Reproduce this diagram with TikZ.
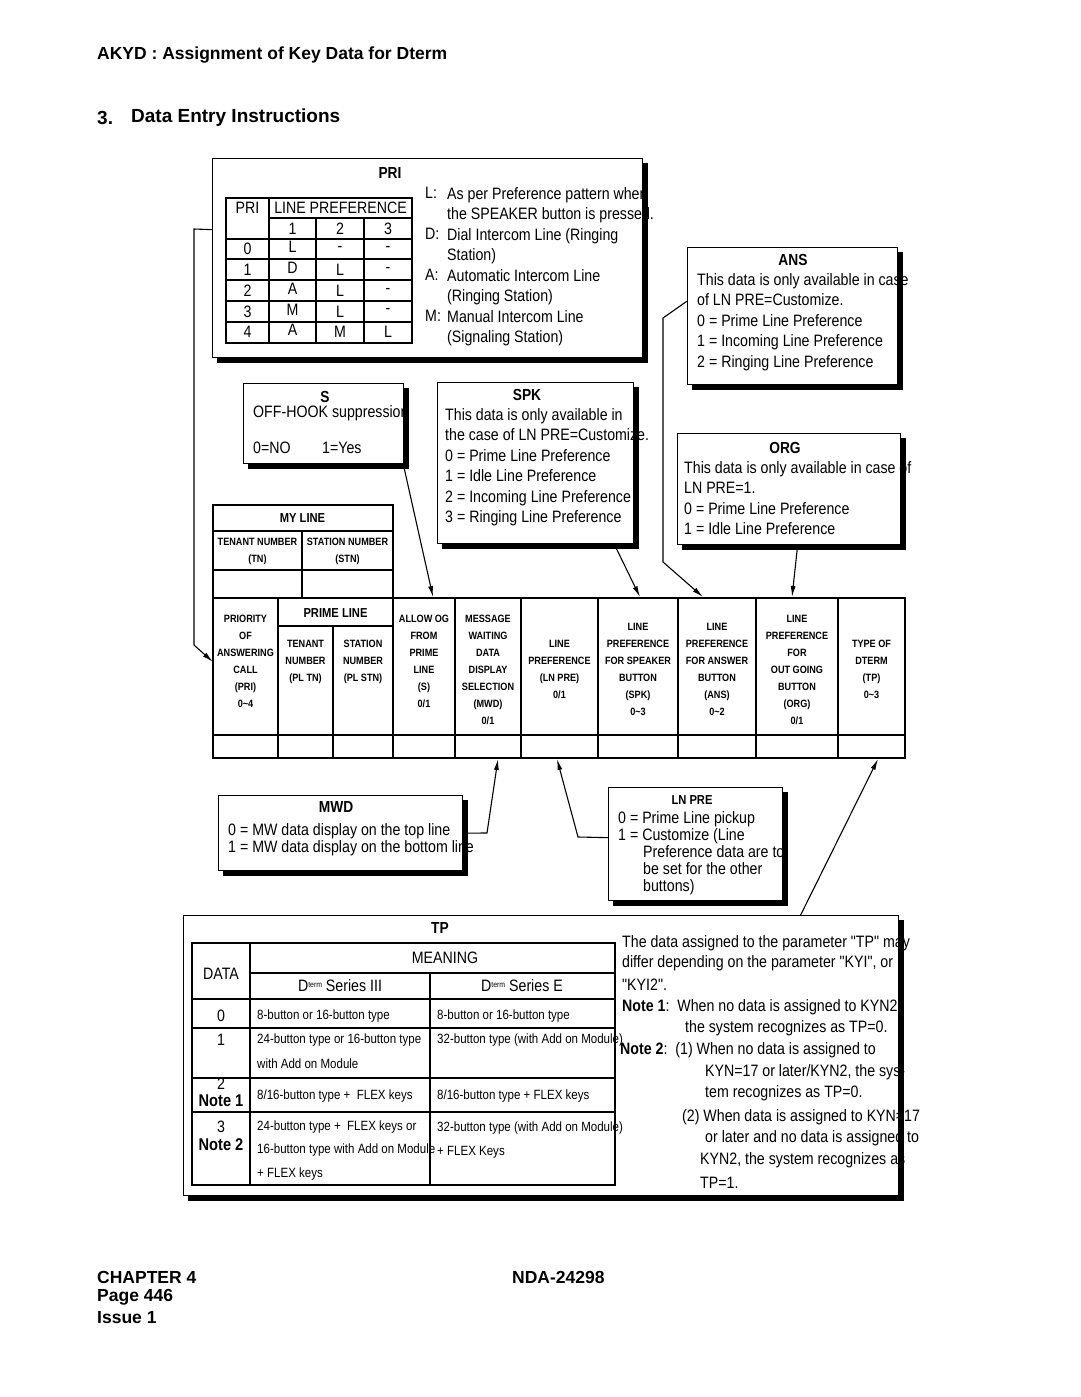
\documentclass[tikz,border=0pt]{standalone}
\usepackage{fontspec}
\setmainfont{Liberation Sans}
\newfontfamily\narrow[FakeStretch=0.86]{Liberation Sans}
\usetikzlibrary{arrows.meta, positioning}

\tikzset{
  box/.style={draw, line width=1.3pt, fill=white, inner sep=0pt, anchor=north west},
  boxshadow/.style={line width=5pt},
  tableline/.style={line width=1.3pt},
  pointer/.style={line width=1.1pt, ->},
  bodytext/.style={font=\narrow\fontsize{16.5}{20.5}\selectfont, inner sep=0pt, anchor=west},
  tighttext/.style={font=\narrow\fontsize{16.5}{17}\selectfont, inner sep=0pt, anchor=north west, align=left},
  cell/.style={font=\narrow\fontsize{16.5}{20.5}\selectfont, inner sep=0pt},
  celltext/.style={font=\narrow\fontsize{13.4}{17}\selectfont, inner sep=0pt, anchor=west},
  boxtitle/.style={font=\narrow\bfseries\fontsize{16}{18}\selectfont, inner sep=0pt},
  notelabel/.style={font=\narrow\bfseries\fontsize{17}{18}\selectfont, inner sep=0pt},
  smalltitle/.style={font=\narrow\bfseries\fontsize{13}{17}\selectfont, inner sep=0pt},
  colhead/.style={font=\narrow\bfseries\fontsize{10.6}{17}\selectfont, inner sep=0pt, align=center},
  heading/.style={font=\bfseries\fontsize{17.5}{21}\selectfont, inner sep=0pt, anchor=west},
  sectionhead/.style={font=\bfseries\fontsize{19}{23}\selectfont, inner sep=0pt, anchor=west},
  >={Latex[length=11pt,width=5pt]}
}

% thick black shadow on the right and lower side of a box
\newcommand{\boxshade}[1]{%
  \draw[boxshadow] ([shift={(2.5pt,-5pt)}]#1.north east) -- ([shift={(2.5pt,-2.5pt)}]#1.south east) -- ([shift={(5pt,-2.5pt)}]#1.south west);}
\newcommand{\dterm}{D{\fontsize{8}{8}\selectfont\raisebox{4.5pt}{term}}}

\begin{document}
\begin{tikzpicture}[x=1pt, y=-1pt]
  \fill[white] (0,0) rectangle (1080,1397);
  \useasboundingbox (0,0) rectangle (1080,1397);

  % page heading
  \node[heading] (akyd) at (97,55) {AKYD : Assignment of Key Data for Dterm};
  \node[sectionhead] (secno) at (97,118) {3.};
  \node[sectionhead] (sectitle) at (131,118) {Data Entry Instructions};

  % PRI box
  \node[box, minimum width=430pt, minimum height=199pt] (pri) at (212,158) {};
  \node[boxtitle] (prititle) at (390,173) {PRI};
  \draw[tableline] (226,198) rectangle (412,343);
  \draw[tableline] (269,198) -- (269,343);
  \draw[tableline] (269,218) -- (412,218);
  \draw[tableline] (316,218) -- (316,343);
  \draw[tableline] (364,218) -- (364,343);
  \foreach \y in {239,259,280,301,322}
    \draw[tableline] (226,\y) -- (412,\y);
  \node[cell] (prihead) at (247.5,208) {PRI};
  \node[cell] (linepref) at (340.5,208) {LINE PREFERENCE};
  \node[cell] (lp1) at (292.5,228.5) {1};
  \node[cell] (lp2) at (340,228.5) {2};
  \node[cell] (lp3) at (388,228.5) {3};
  \foreach \r/\a/\b/\c [count=\i from 0] in {0/L/-/-, 1/D/L/-, 2/A/L/-, 3/M/L/-, 4/A/M/L} {
    \node[cell] (prirow\i) at (247.5,249+20.8*\i) {\r};
    \node[cell] (prifirst\i) at (292.5,247+20.8*\i) {\a};
    \node[cell] (prisecond\i) at (340,249+20.8*\i) {\b};
    \node[cell] (prithird\i) at (388,249+20.8*\i) {\c};
  }
  \node[bodytext, anchor=north west, align=left] (prikeys) at (425,187)
    {L:\\[20.5pt]D:\\[20.5pt]A:\\[20.5pt]M:};
  \node[bodytext, anchor=north west, align=left] (pritext) at (447,187)
    {As per Preference pattern when\\the SPEAKER button is pressed.\\Dial Intercom Line (Ringing\\Station)\\Automatic Intercom Line\\(Ringing Station)\\Manual Intercom Line\\(Signaling Station)};

  % S box
  \node[box, minimum width=160pt, minimum height=80pt] (sbox) at (243,383) {};
  \node[boxtitle] (stitle) at (325,397) {S};
  \node[bodytext] (stext) at (253,413) {OFF-HOOK suppression};
  \node[bodytext] (sno) at (253,448) {0=NO};
  \node[bodytext] (syes) at (322,448) {1=Yes};

  % SPK box
  \node[box, minimum width=196pt, minimum height=161pt] (spk) at (437,382) {};
  \node[boxtitle] (spktitle) at (527,395) {SPK};
  \node[bodytext, anchor=north west, align=left] (spktext) at (445,408)
    {This data is only available in\\the case of LN PRE=Customize.\\0 = Prime Line Preference\\1 = Idle Line Preference\\2 = Incoming Line Preference\\3 = Ringing Line Preference};

  % ANS box
  \node[box, minimum width=210pt, minimum height=137pt] (ans) at (687,247) {};
  \node[boxtitle] (anstitle) at (793,260) {ANS};
  \node[bodytext, anchor=north west, align=left] (anstext) at (697,273)
    {This data is only available in case\\of LN PRE=Customize.\\0 = Prime Line Preference\\1 = Incoming Line Preference\\2 = Ringing Line Preference};

  % ORG box
  \node[box, minimum width=223pt, minimum height=111pt] (org) at (677,433) {};
  \node[boxtitle] (orgtitle) at (785,448) {ORG};
  \node[bodytext, anchor=north west, align=left] (orgtext) at (684,461)
    {This data is only available in case of\\LN PRE=1.\\0 = Prime Line Preference\\1 = Idle Line Preference};

  % MY LINE table
  \draw[tableline] (213,505) rectangle (393,598);
  \draw[tableline] (213,531) -- (393,531);
  \draw[tableline] (213,570) -- (393,570);
  \draw[tableline] (302,531) -- (302,598);
  \node[smalltitle] (myline) at (302.5,518) {MY LINE};
  \node[colhead] (mytn) at (257.5,551) {TENANT NUMBER\\(TN)};
  \node[colhead] (mystn) at (347.5,551) {STATION NUMBER\\(STN)};

  % main data table
  \draw[tableline] (213,598) rectangle (905,758);
  \draw[tableline] (213,735) -- (905,735);
  \draw[tableline] (278,626) -- (393,626);
  \foreach \x in {278,393,455,521,598,678,756,838}
    \draw[tableline] (\x,598) -- (\x,758);
  \draw[tableline] (333,626) -- (333,758);
  \node[smalltitle] (primeline) at (335.5,613) {PRIME LINE};
  \node[colhead] (colpri) at (245.5,661.5) {PRIORITY\\OF\\ANSWERING\\CALL\\(PRI)\\0\textasciitilde4};
  \node[colhead] (colpltn) at (305.5,661.5) {TENANT\\NUMBER\\(PL TN)};
  \node[colhead] (colplstn) at (363,661.5) {STATION\\NUMBER\\(PL STN)};
  \node[colhead] (cols) at (424,661.5) {ALLOW OG\\FROM\\PRIME\\LINE\\(S)\\0/1};
  \node[colhead] (colmwd) at (488,670) {MESSAGE\\WAITING\\DATA\\DISPLAY\\SELECTION\\(MWD)\\0/1};
  \node[colhead] (collnpre) at (559.5,669.5) {LINE\\PREFERENCE\\(LN PRE)\\0/1};
  \node[colhead] (colspk) at (638,669.5) {LINE\\PREFERENCE\\FOR SPEAKER\\BUTTON\\(SPK)\\0\textasciitilde3};
  \node[colhead] (colans) at (717,669.5) {LINE\\PREFERENCE\\FOR ANSWER\\BUTTON\\(ANS)\\0\textasciitilde2};
  \node[colhead] (colorg) at (797,670) {LINE\\PREFERENCE\\FOR\\OUT GOING\\BUTTON\\(ORG)\\0/1};
  \node[colhead] (coltp) at (871.5,669.5) {TYPE OF\\DTERM\\(TP)\\0\textasciitilde3};

  % MWD box
  \node[box, minimum width=244pt, minimum height=75pt] (mwd) at (218,795) {};
  \node[boxtitle] (mwdtitle) at (336,807) {MWD};
  \node[tighttext] (mwdtext) at (228,823)
    {0 = MW data display on the top line\\1 = MW data display on the bottom line};

  % LN PRE box
  \node[box, minimum width=174pt, minimum height=113pt] (lnpre) at (608,787) {};
  \node[smalltitle] (lnpretitle) at (692,800) {LN PRE};
  \node[tighttext] (lnpretext) at (618,811)
    {0 = Prime Line pickup\\1 = Customize (Line};
  \node[tighttext] (lnpremore) at (643,845)
    {Preference data are to\\be set for the other\\buttons)};

  % TP box
  \node[box, minimum width=715pt, minimum height=280pt] (tpbox) at (183,915) {};
  \node[boxtitle] (tptitle) at (440,928) {TP};
  \draw[tableline] (192,943) rectangle (615,1185);
  \draw[tableline] (250,943) -- (250,1185);
  \draw[tableline] (430,973) -- (430,1185);
  \draw[tableline] (250,973) -- (615,973);
  \foreach \y in {999,1028,1078,1112}
    \draw[tableline] (192,\y) -- (615,\y);
  \node[cell] (tpdata) at (221,974) {DATA};
  \node[cell] (tpmeaning) at (445,958) {MEANING};
  \node[cell] (tpseries3) at (340,986) {\dterm\ Series III};
  \node[cell] (tpseriese) at (522,986) {\dterm\ Series E};
  \node[cell] (tp0) at (221,1016) {0};
  \node[cell] (tp1) at (221,1040) {1};
  \node[cell] (tp2) at (221,1084) {2};
  \node[notelabel] (tpnote1) at (221,1101) {Note 1};
  \node[cell] (tp3) at (221,1127) {3};
  \node[notelabel] (tpnote2) at (221,1145) {Note 2};
  \foreach \cx/\cy/\ctext [count=\i] in {
      257/1016/{8-button or 16-button type},
      437/1016/{8-button or 16-button type},
      257/1040/{24-button type or 16-button type},
      257/1064/{with Add on Module},
      437/1040/{32-button type (with Add on Module)},
      257/1096/{8/16-button type +\ \ FLEX keys},
      437/1096/{8/16-button type + FLEX keys},
      257/1127/{24-button type +\ \ FLEX keys or},
      257/1150/{16-button type with Add on Module},
      257/1174/{+ FLEX keys},
      437/1128/{32-button type (with Add on Module)},
      437/1152/{+ FLEX Keys}}
    \node[celltext] (tpcell\i) at (\cx,\cy) {\ctext};
  \foreach \nx/\ny/\ntext [count=\i] in {
      622/943/{The data assigned to the parameter "TP" may},
      622/963/{differ depending on the parameter "KYI", or},
      622/985/{"KYI2".},
      622/1007/{\textbf{Note 1}:\ \ When no data is assigned to KYN2},
      685/1028/{the system recognizes as TP=0.},
      620/1050/{\textbf{Note 2}:\ \ (1) When no data is assigned to},
      705/1072/{KYN=17 or later/KYN2, the sys-},
      705/1093/{tem recognizes as TP=0.},
      682/1117/{(2) When data is assigned to KYN=17},
      705/1138/{or later and no data is assigned to},
      700/1160/{KYN2, the system recognizes as},
      700/1183/{TP=1.}}
    \node[bodytext] (tpnote\i) at (\nx,\ny) {\ntext};

  % arrow targets on the data table
  \coordinate (pritgt) at (213,662);
  \coordinate (stgt) at (433,597);
  \coordinate (spktgt) at (640,597);
  \coordinate (anstgt) at (703,597);
  \coordinate (orgtgt) at (792,597);
  \coordinate (mwdtgt) at (498,759);
  \coordinate (lnpretgt) at (557,759);
  \coordinate (tptgt) at (878,759);

  % connectors
  \draw[pointer] ([yshift=28.5pt]pri.west) -- (194,229) -- (194,645) -- (pritgt);
  \draw[pointer] ([xshift=-1pt]sbox.south east) -- (stgt);
  \draw[pointer] ([xshift=-20pt]spk.south east) -- (spktgt);
  \draw[pointer] ([yshift=15pt]ans.west) -- (663,318) -- (663,562) -- (anstgt);
  \draw[pointer] ([xshift=8.5pt]org.south) -- (orgtgt);
  \draw[pointer] (mwd.east) -- (487,833) -- (mwdtgt);
  \draw[pointer] ([yshift=6.5pt]lnpre.west) -- (578,837) -- (lnpretgt);
  \draw[pointer] ([xshift=259.5pt]tpbox.north) -- (tptgt);

  % box shadows
  \foreach \b in {pri, sbox, spk, ans, org, mwd, lnpre, tpbox} {
    \boxshade{\b}
  }

  % footer
  \node[heading] (chapter) at (97,1277) {CHAPTER 4};
  \node[heading] (page) at (97,1297) {Page 446};
  \node[heading] (issue) at (97,1318) {Issue 1};
  \node[heading] (nda) at (512,1277) {NDA-24298};
\end{tikzpicture}
\end{document}
